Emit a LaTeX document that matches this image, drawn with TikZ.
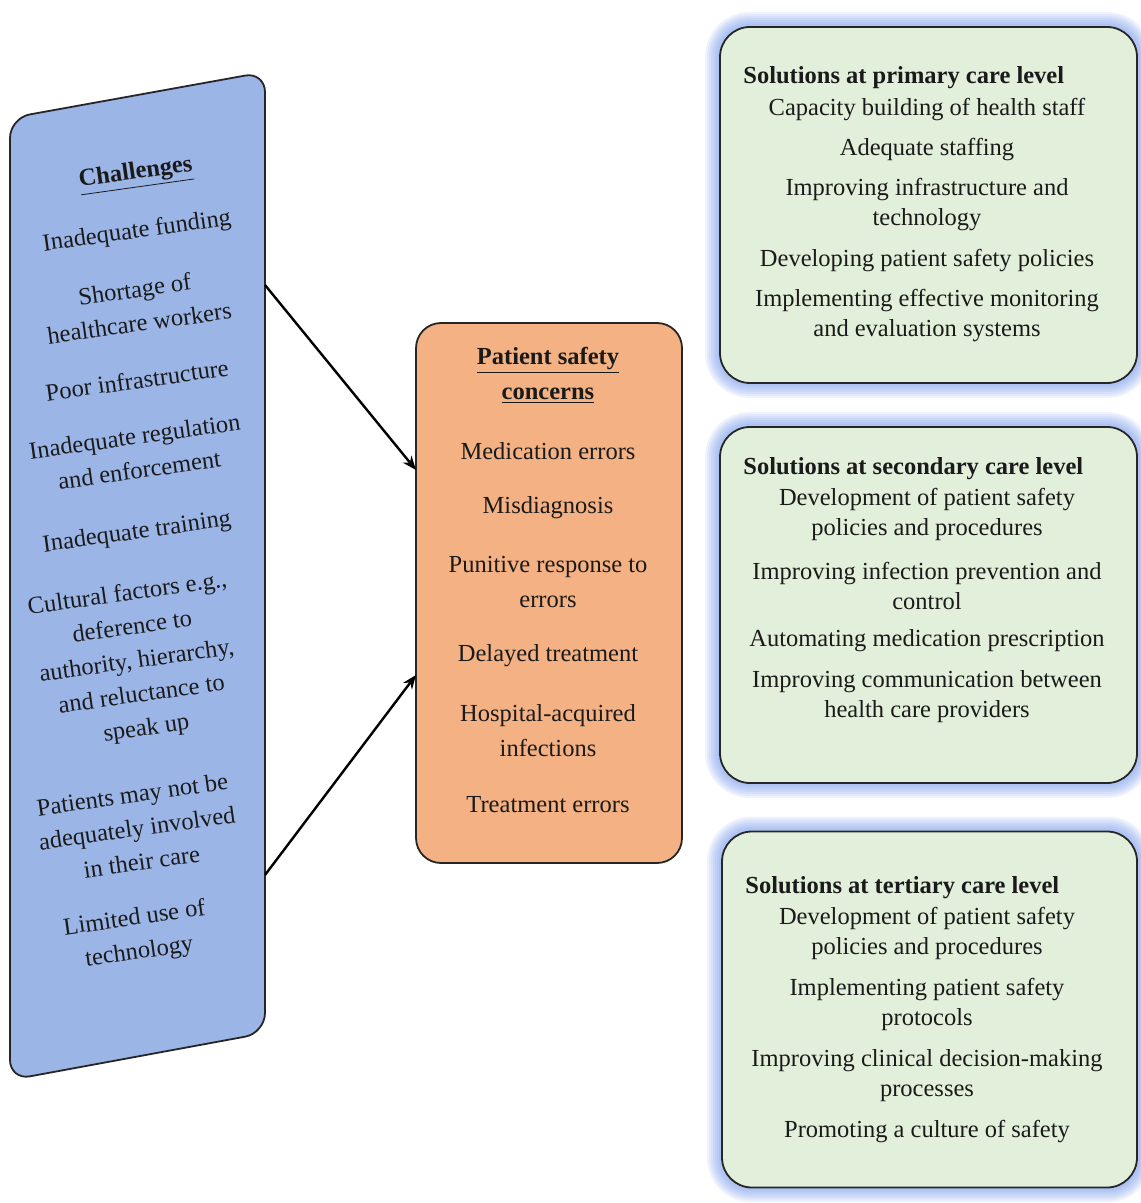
\documentclass[tikz,border=0pt]{standalone}
\usepackage{fontspec}
\setmainfont{Liberation Serif}
\usetikzlibrary{arrows.meta,backgrounds}
\definecolor{chalblue}{HTML}{9BB5E6}
\definecolor{concorange}{HTML}{F4B183}
\definecolor{solgreen}{HTML}{E2EFDA}
\definecolor{glowblue}{HTML}{6F93EA}
\definecolor{inkc}{HTML}{1A1A1A}
\begin{document}
\begin{tikzpicture}[x=0.5pt,y=-0.5pt,
  txt/.style={font=\fontsize{12.25pt}{15pt}\selectfont, align=center, inner sep=0pt, text=inkc},
  hdr/.style={txt, font=\fontsize{12.25pt}{15pt}\selectfont\bfseries, anchor=west},
  ctxt/.style={txt, font=\fontsize{12.25pt}{17.5pt}\selectfont},
  ltxt/.style={txt, font=\fontsize{12.25pt}{17pt}\selectfont, rotate=8},
  solbox/.style={draw=black!85, line width=0.9pt, fill=solgreen, rounded corners=15pt,
    minimum width=208.5pt, minimum height=178pt, inner sep=0pt},
  concbox/.style={draw=black!85, line width=0.9pt, fill=concorange, rounded corners=12.5pt,
    minimum width=133pt, minimum height=270pt, inner sep=0pt},
  link/.style={line width=1.2pt, draw=black, -{Stealth[length=7pt,width=5.5pt]}},
  glow/.style={draw=glowblue, rounded corners=15pt, opacity=0.11}
]
\useasboundingbox (0,0) rectangle (1140,1203);

% ---------- Challenges (left, sheared box) ----------
\draw[draw=black!85, line width=0.9pt, fill=chalblue, rounded corners=10pt]
  (10,118) -- (265,72) -- (265,1033) -- (10,1080) -- cycle;
\coordinate (chalA) at (265,285);
\coordinate (chalB) at (265,875);

\node[ltxt] (c0) at (136,175) {\textbf{\underline{Challenges}}};
\node[ltxt] (c1) at (137,232) {Inadequate funding};
\node[ltxt] (c2) at (137,306) {Shortage of\\healthcare workers};
\node[ltxt] (c3) at (137,380) {Poor infrastructure};
\node[ltxt] (c4) at (137,453) {Inadequate regulation\\and enforcement};
\node[ltxt] (c5) at (137,533) {Inadequate training};
\node[ltxt] (c6) at (137,662) {Cultural factors e.g.,\\deference to\\authority, hierarchy,\\and reluctance to\\speak up};
\node[ltxt] (c7) at (137,828) {Patients may not be\\adequately involved\\in their care};
\node[ltxt] (c8) at (137,936) {Limited use of\\technology};

% ---------- Patient safety concerns ----------
\node[concbox] (psc) at (549,593) {};
\coordinate (pscA) at (416,470);
\coordinate (pscB) at (416,675);
\node[ctxt] (p0) at (548,375.5) {\textbf{\underline{Patient safety}}\\\textbf{\underline{concerns}}};
\node[ctxt] (p1) at (548,451) {Medication errors};
\node[ctxt] (p2) at (548,508) {Misdiagnosis};
\node[ctxt] (p3) at (548,582.5) {Punitive response to\\errors};
\node[ctxt] (p4) at (548,656) {Delayed treatment};
\node[ctxt] (p5) at (548,730.5) {Hospital-acquired\\infections};
\node[ctxt] (p6) at (548,805) {Treatment errors};

\draw[link] (chalA) -- (pscA);
\draw[link] (chalB) -- (pscB);

% ---------- Solutions boxes ----------
\node[solbox] (prim) at (928.5,205) {};
\node[solbox] (sec) at (928.5,605) {};
\node[solbox, minimum width=207.5pt] (ter) at (929.5,1009.5) {};

\begin{scope}[on background layer]
  \foreach \bx in {prim,sec,ter}{
    \foreach \w in {14,12,10,8,6,4,2}{
      \draw[glow, line width=\w pt] (\bx.north west) rectangle (\bx.south east);
    }
  }
\end{scope}

% primary
\node[hdr] (s10) at (743,78) {Solutions at primary care level};
\node[txt] (s11) at (927,110) {Capacity building of health staff};
\node[txt] (s12) at (927,150) {Adequate staffing};
\node[txt] (s13) at (927,205) {Improving infrastructure and\\technology};
\node[txt] (s14) at (927,261) {Developing patient safety policies};
\node[txt] (s15) at (927,316) {Implementing effective monitoring\\and evaluation systems};

% secondary
\node[hdr] (s20) at (743,469) {Solutions at secondary care level};
\node[txt] (s21) at (927,514.5) {Development of patient safety\\policies and procedures};
\node[txt] (s22) at (927,585.5) {Improving infection prevention and\\control};
\node[txt] (s23) at (927,641) {Automating medication prescription};
\node[txt] (s24) at (927,697) {Improving communication between\\health care providers};

% tertiary
\node[hdr] (s30) at (745,888) {Solutions at tertiary care level};
\node[txt] (s31) at (927,933.5) {Development of patient safety\\policies and procedures};
\node[txt] (s32) at (927,1004.5) {Implementing patient safety\\protocols};
\node[txt] (s33) at (927,1075.5) {Improving clinical decision-making\\processes};
\node[txt] (s34) at (927,1132) {Promoting a culture of safety};
\end{tikzpicture}
\end{document}
